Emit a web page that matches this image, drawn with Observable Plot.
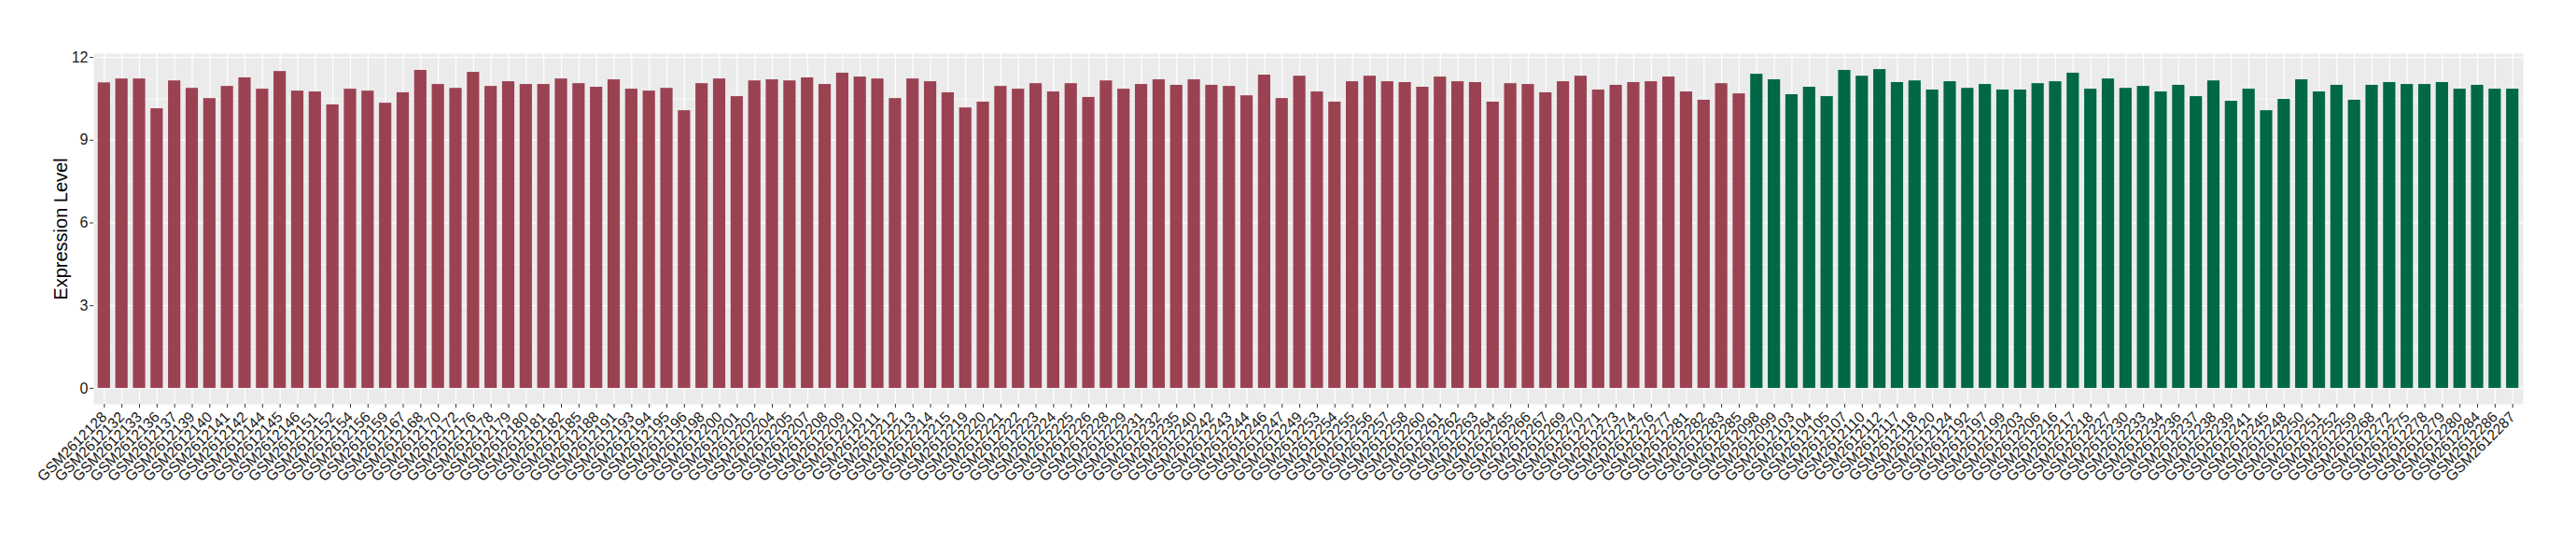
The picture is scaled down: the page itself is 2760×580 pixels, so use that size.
<!DOCTYPE html>
<html><head><meta charset="utf-8">
<script src="https://cdn.jsdelivr.net/npm/d3@7"></script>
<script src="https://cdn.jsdelivr.net/npm/@observablehq/plot@0.6"></script>
<style>body{margin:0;background:#fff;} #chart svg{display:block;}</style>
</head><body><div id="chart"></div>
<script>
const groupASamples = ["GSM2612128","GSM2612132","GSM2612133","GSM2612136","GSM2612137","GSM2612139","GSM2612140","GSM2612141","GSM2612142","GSM2612144","GSM2612145","GSM2612146","GSM2612151","GSM2612152","GSM2612154","GSM2612156","GSM2612159","GSM2612167","GSM2612168",
"GSM2612170","GSM2612172","GSM2612176","GSM2612178","GSM2612179","GSM2612180","GSM2612181","GSM2612182","GSM2612185","GSM2612188","GSM2612191","GSM2612193","GSM2612194","GSM2612195","GSM2612196","GSM2612198","GSM2612200","GSM2612201","GSM2612202","GSM2612204","GSM2612205","GSM2612207","GSM2612208","GSM2612209",
"GSM2612210","GSM2612211","GSM2612212","GSM2612213","GSM2612214","GSM2612215","GSM2612219","GSM2612220","GSM2612221","GSM2612222","GSM2612223","GSM2612224","GSM2612225","GSM2612226","GSM2612228","GSM2612229","GSM2612231","GSM2612232","GSM2612235","GSM2612240","GSM2612242","GSM2612243","GSM2612244","GSM2612246",
"GSM2612247","GSM2612249","GSM2612253","GSM2612254","GSM2612255","GSM2612256","GSM2612257","GSM2612258","GSM2612260","GSM2612261","GSM2612262","GSM2612263","GSM2612264","GSM2612265","GSM2612266","GSM2612267","GSM2612269","GSM2612270","GSM2612271","GSM2612273","GSM2612274","GSM2612276","GSM2612277","GSM2612281",
"GSM2612282","GSM2612283","GSM2612285"];
const groupAValues = [11.08,11.22,11.22,10.14,11.15,10.88,10.51,10.95,11.26,10.85,11.49,10.78,10.75,10.28,10.85,10.78,10.34,10.72,11.53,
11.02,10.88,11.46,10.95,11.12,11.02,11.02,11.22,11.05,10.92,11.19,10.85,10.78,10.88,10.07,11.05,11.22,10.58,11.15,11.19,11.15,11.26,11.02,11.43,
11.29,11.22,10.51,11.22,11.12,10.72,10.17,10.38,10.95,10.85,11.05,10.75,11.05,10.55,11.15,10.85,11.02,11.19,10.99,11.19,10.99,10.95,10.61,11.36,
10.51,11.32,10.75,10.38,11.12,11.32,11.12,11.09,10.92,11.29,11.12,11.09,10.38,11.05,11.02,10.72,11.12,11.32,10.82,10.99,11.09,11.12,11.29,10.75,
10.45,11.05,10.68];
const groupBSamples = ["GSM2612098","GSM2612099","GSM2612103","GSM2612104","GSM2612105","GSM2612107","GSM2612110","GSM2612112","GSM2612117","GSM2612118","GSM2612120","GSM2612124","GSM2612192","GSM2612197","GSM2612199","GSM2612203","GSM2612206","GSM2612216","GSM2612217","GSM2612218","GSM2612227",
"GSM2612230","GSM2612233","GSM2612234","GSM2612236","GSM2612237","GSM2612238","GSM2612239","GSM2612241","GSM2612245","GSM2612248","GSM2612250","GSM2612251","GSM2612252","GSM2612259","GSM2612268","GSM2612272","GSM2612275","GSM2612278","GSM2612279","GSM2612280","GSM2612284","GSM2612286","GSM2612287"];
const groupBValues = [11.39,11.19,10.65,10.92,10.58,11.53,11.32,11.56,11.09,11.15,10.82,11.12,10.88,11.02,10.82,10.82,11.05,11.12,11.43,10.85,11.22,
10.88,10.95,10.75,10.99,10.58,11.15,10.41,10.85,10.07,10.48,11.19,10.75,10.99,10.45,10.99,11.09,11.02,11.02,11.09,10.85,10.99,10.85,10.85];
const groupNames = ["A","B"];
const groupColors = ["#9B4252","#006846"];
const yTicks = [0,3,6,9,12];
const yMinorTicks = [1.5,4.5,7.5,10.5];
const yTitle = "Expression Level";

const data = [
  ...groupASamples.map((s,i)=>({sample:s, value:groupAValues[i], group:groupNames[0]})),
  ...groupBSamples.map((s,i)=>({sample:s, value:groupBValues[i], group:groupNames[1]}))
];
const allValues = data.map(d=>d.value);
const yMax = d3.max(allValues);
const pad = yMax*0.05;

const chart = Plot.plot({
  width:2760, height:580,
  marginLeft:100, marginRight:57, marginTop:57, marginBottom:147,
  style:{fontFamily:"'Liberation Sans', Arial, sans-serif", background:"white", overflow:"visible"},
  x:{domain:data.map(d=>d.sample), paddingInner:0.3, paddingOuter:0.25, label:null},
  y:{domain:[-pad, yMax+pad], label:null},
  color:{domain:groupNames, range:groupColors},
  marks:[
    Plot.frame({fill:"#EBEBEB", stroke:null}),
    Plot.gridY(yMinorTicks,{stroke:"white", strokeOpacity:1, strokeWidth:0.6}),
    Plot.gridY(yTicks,{stroke:"white", strokeOpacity:1, strokeWidth:1.2}),
    Plot.gridX({stroke:"white", strokeOpacity:1, strokeWidth:1.2}),
    Plot.barY(data,{x:"sample", y:"value", fill:"group"}),
    Plot.axisY(yTicks,{tickSize:4, tickPadding:2, fontSize:16, fill:"#1A1A1A", stroke:"#333333", label:null}),
    Plot.axisX({tickRotate:-45, tickSize:4, tickPadding:7, fontSize:15.8, fill:"#1A1A1A", stroke:"#333333", label:null}),
    Plot.text([yTitle],{text:d=>d, frameAnchor:"left", textAnchor:"middle", dx:-35, rotate:-90, fontSize:20, fill:"black"})
  ]
});
document.getElementById("chart").appendChild(chart);
</script>
</body></html>
